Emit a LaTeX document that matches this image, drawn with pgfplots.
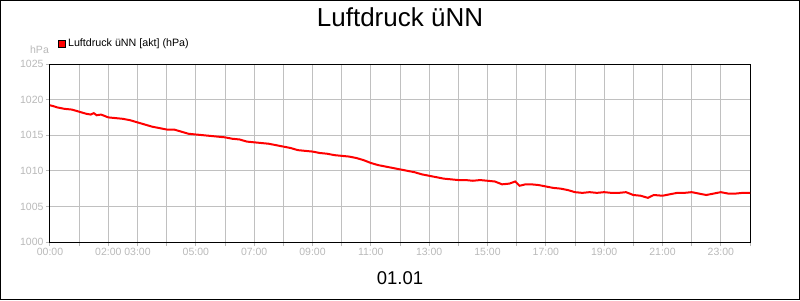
\documentclass[border=0pt]{standalone}
\usepackage{pgfplots}
\pgfplotsset{compat=1.18}
\usepackage{fontspec}
\setmainfont{Liberation Sans}
\definecolor{tickgray}{RGB}{185,185,185}
\definecolor{gridgray}{RGB}{192,192,192}
\pgfplotstableread{
h p
0.00 1019.2
0.10 1019.1
0.25 1018.9
0.50 1018.7
0.75 1018.6
1.00 1018.3
1.25 1018.0
1.40 1017.9
1.50 1018.1
1.60 1017.8
1.75 1017.9
2.00 1017.5
2.25 1017.4
2.50 1017.3
2.75 1017.1
3.00 1016.8
3.25 1016.5
3.50 1016.2
3.75 1016.0
4.00 1015.8
4.25 1015.8
4.50 1015.5
4.75 1015.2
5.00 1015.1
5.25 1015.0
5.50 1014.9
5.75 1014.8
6.00 1014.7
6.25 1014.5
6.50 1014.4
6.75 1014.1
7.00 1014.0
7.25 1013.9
7.50 1013.8
7.75 1013.6
8.00 1013.4
8.25 1013.2
8.50 1012.9
8.75 1012.8
9.00 1012.7
9.25 1012.5
9.50 1012.4
9.75 1012.2
10.00 1012.1
10.25 1012.0
10.50 1011.8
10.75 1011.5
11.00 1011.1
11.25 1010.8
11.50 1010.6
11.75 1010.4
12.00 1010.2
12.25 1010.0
12.50 1009.8
12.75 1009.5
13.00 1009.3
13.25 1009.1
13.50 1008.9
13.75 1008.8
14.00 1008.7
14.25 1008.7
14.50 1008.6
14.75 1008.7
15.00 1008.6
15.25 1008.5
15.50 1008.1
15.75 1008.2
15.95 1008.5
16.10 1007.9
16.30 1008.1
16.50 1008.1
16.75 1008.0
17.00 1007.8
17.25 1007.6
17.50 1007.5
17.75 1007.3
18.00 1007.0
18.25 1006.9
18.50 1007.0
18.75 1006.9
19.00 1007.0
19.25 1006.9
19.50 1006.9
19.75 1007.0
20.00 1006.6
20.25 1006.5
20.50 1006.2
20.70 1006.6
21.00 1006.5
21.25 1006.7
21.50 1006.9
21.75 1006.9
22.00 1007.0
22.25 1006.8
22.50 1006.6
22.75 1006.8
23.00 1007.0
23.25 1006.8
23.50 1006.8
23.75 1006.9
24.00 1006.9
}\pdata
\begin{document}
\begin{tikzpicture}[x=1pt,y=1pt]
\draw[line width=1pt] (0.5,0.5) rectangle (799.5,299.5);
\begin{axis}[
  at={(50pt,58pt)}, anchor=south west,
  width=700pt, height=178pt, scale only axis,
  xmin=0, xmax=24, ymin=1000, ymax=1025,
  xtick={0,...,24},
  xticklabels={00:00,,02:00,03:00,,05:00,,07:00,,09:00,,11:00,,13:00,,15:00,,17:00,,19:00,,21:00,,23:00,},
  ytick={1000,1005,...,1025},
  /pgf/number format/fixed,
  /pgf/number format/1000 sep={},
  /pgf/number format/assume math mode=true,
  tick label style={font=\fontsize{10.5}{12}\selectfont, text=tickgray},
  xtick pos=left, ytick pos=left,
  tick align=outside, major tick length=4pt,
  every tick/.style={tickgray, line width=1pt},
  grid=major, major grid style={gridgray, line width=1pt},
  axis line style={black, line width=1pt},
  xticklabel style={yshift=1pt},
  yticklabel style={xshift=1pt},
  legend style={at={(0.0115,1.075)}, anchor=south west, draw=none, fill=none,
    inner sep=0pt, font=\fontsize{10.7}{12}\selectfont},
  legend image code/.code={\draw[draw=black, fill=red, line width=0.8pt] (0pt,-3.5pt) rectangle (7pt,3.5pt);},
]
\addplot[red, line width=2pt] table[x=h, y=p] {\pdata};
\addlegendentry{Luftdruck üNN [akt] (hPa)}
\end{axis}
\node[anchor=base, font=\fontsize{26}{30}\selectfont] at (400,273) {Luftdruck üNN};
\node[anchor=base, font=\fontsize{18.5}{22}\selectfont] at (400,16) {01.01};
\node[anchor=center, font=\fontsize{10.5}{12}\selectfont, text=tickgray] at (39.5,250.5) {hPa};
\end{tikzpicture}
\end{document}
